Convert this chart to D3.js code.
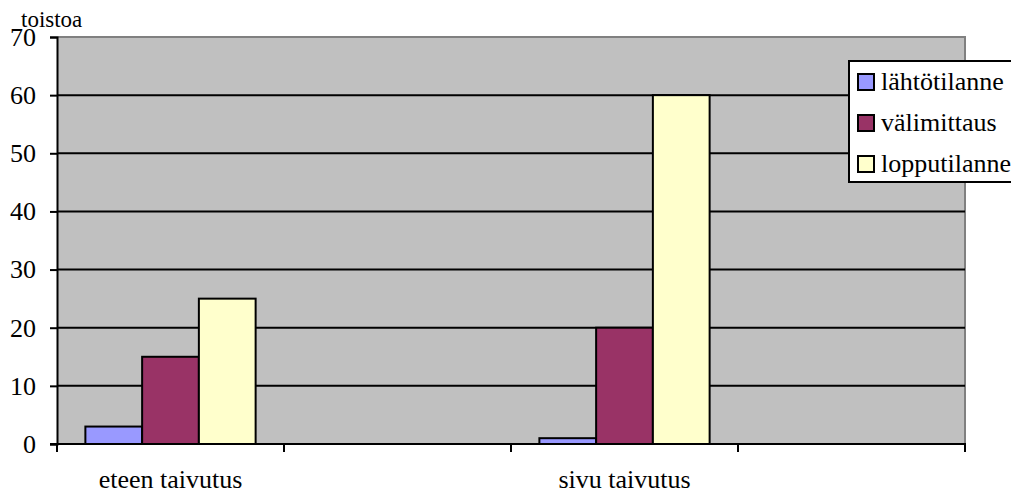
<!DOCTYPE html>
<html>
<head>
<meta charset="utf-8">
<script src="https://cdn.jsdelivr.net/npm/d3@7"></script>
<style>
  html, body { margin: 0; padding: 0; background: #fff; }
  svg { display: block; }
</style>
</head>
<body>
<svg id="chart" width="1011" height="494"></svg>
<script>
// Categories along the x axis (two unlabeled slots keep the spacing)
const categories = ["eteen taivutus", "", "sivu taivutus", " "];
const seriesNames = ["lähtötilanne", "välimittaus", "lopputilanne"];
const seriesColors = ["#9999ff", "#993366", "#ffffcc"];
// Repetition counts per series, one value per category (null = no bar)
const lahtotilanne = [3, null, 1, null];
const valimittaus  = [15, null, 20, null];
const lopputilanne = [25, null, 60, null];
const yTicks = [0, 10, 20, 30, 40, 50, 60, 70];
const yTitle = "toistoa";

const series = [lahtotilanne, valimittaus, lopputilanne];
const fontFamily = "serif";
const fontSize = 26;

const svg = d3.select("#chart");
const plot = { left: 57, right: 965, top: 37, bottom: 444 };

const x = d3.scaleBand().domain(categories).range([plot.left, plot.right]).paddingInner(0).paddingOuter(0);
const xInner = d3.scaleBand().domain(d3.range(series.length)).range([0, x.bandwidth()]).paddingOuter(0.5).paddingInner(0);
const y = d3.scaleLinear().domain([0, 70]).range([plot.bottom, plot.top]);

// Plot background
svg.append("rect")
  .attr("x", plot.left).attr("y", plot.top)
  .attr("width", plot.right - plot.left).attr("height", plot.bottom - plot.top)
  .attr("fill", "#c0c0c0");

// Gray frame on the top and right
svg.append("path")
  .attr("d", `M${plot.left},${plot.top}H${plot.right}V${plot.bottom}`)
  .attr("fill", "none").attr("stroke", "#808080").attr("stroke-width", 2);

// Horizontal gridlines
svg.append("g").selectAll("line")
  .data(yTicks.filter(d => d > 0 && d < 70))
  .join("line")
  .attr("x1", plot.left).attr("x2", plot.right)
  .attr("y1", d => y(d)).attr("y2", d => y(d))
  .attr("stroke", "#000").attr("stroke-width", 2);

// Bars
const groups = svg.append("g").selectAll("g")
  .data(categories)
  .join("g")
  .attr("transform", c => `translate(${x(c)},0)`);

groups.selectAll("rect")
  .data((c, ci) => series.map((s, si) => ({ si, v: s[ci] })).filter(d => d.v != null))
  .join("rect")
  .attr("x", d => xInner(d.si))
  .attr("width", xInner.bandwidth())
  .attr("y", d => y(d.v))
  .attr("height", d => y(0) - y(d.v))
  .attr("fill", d => seriesColors[d.si])
  .attr("stroke", "#000").attr("stroke-width", 2);

// Y axis
const yAxis = svg.append("g")
  .attr("transform", `translate(${plot.left},0)`)
  .call(d3.axisLeft(y).tickValues(yTicks).tickSize(7).tickPadding(14).tickFormat(d3.format("d")));
yAxis.attr("font-family", fontFamily).attr("font-size", fontSize);
yAxis.select(".domain").attr("stroke", "#000").attr("stroke-width", 2);
yAxis.selectAll(".tick line").attr("stroke", "#000").attr("stroke-width", 2);
yAxis.selectAll(".tick text").attr("fill", "#000");

// X axis with ticks on category boundaries
const xAxis = svg.append("g")
  .attr("transform", `translate(0,${plot.bottom})`)
  .attr("font-family", fontFamily).attr("font-size", fontSize);
xAxis.append("line")
  .attr("x1", plot.left - 7).attr("x2", plot.right + 1)
  .attr("stroke", "#000").attr("stroke-width", 2);
const boundaries = categories.map(c => x(c)).concat([x.range()[1]]);
xAxis.selectAll(".xtick")
  .data(boundaries)
  .join("line")
  .attr("class", "xtick")
  .attr("x1", d => d).attr("x2", d => d)
  .attr("y1", 0).attr("y2", 8)
  .attr("stroke", "#000").attr("stroke-width", 2);
xAxis.selectAll(".xlabel")
  .data(categories.filter(c => c.trim() !== ""))
  .join("text")
  .attr("class", "xlabel")
  .attr("x", c => x(c) + x.bandwidth() / 2)
  .attr("y", 44)
  .attr("text-anchor", "middle")
  .text(c => c);

// Y axis title
svg.append("text")
  .attr("x", 21).attr("y", 27)
  .attr("font-family", fontFamily).attr("font-size", 23)
  .text(yTitle);

// Legend
const legend = svg.append("g").attr("transform", "translate(849,61)")
  .attr("font-family", fontFamily).attr("font-size", fontSize);
legend.append("rect")
  .attr("x", 0).attr("y", 0).attr("width", 180).attr("height", 121)
  .attr("fill", "#fff").attr("stroke", "#000").attr("stroke-width", 2);
const items = legend.selectAll(".item")
  .data(seriesNames)
  .join("g")
  .attr("class", "item")
  .attr("transform", (d, i) => `translate(9,${29 + i * 41})`);
items.append("rect")
  .attr("x", 0).attr("y", -16).attr("width", 16).attr("height", 16)
  .attr("fill", (d, i) => seriesColors[i])
  .attr("stroke", "#000").attr("stroke-width", 2);
items.append("text")
  .attr("x", 23).attr("y", 0)
  .text(d => d);
</script>
</body>
</html>
